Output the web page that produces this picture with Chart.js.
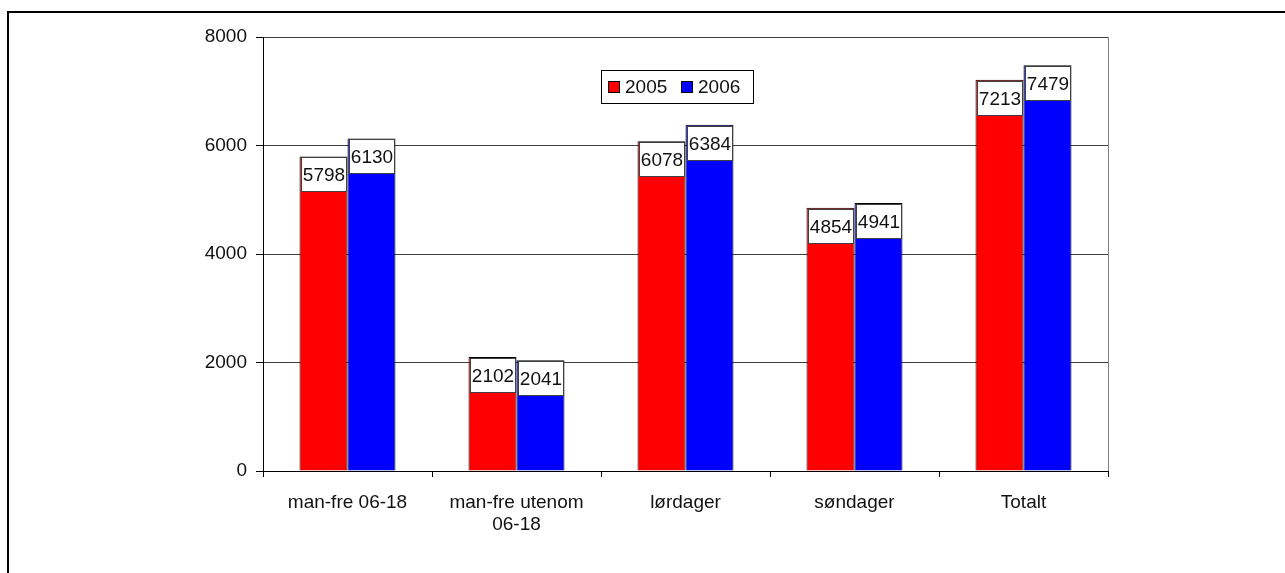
<!DOCTYPE html>
<html>
<head>
<meta charset="utf-8">
<script src="https://cdn.jsdelivr.net/npm/chart.js@4/dist/chart.umd.min.js"></script>
<style>
    html, body { margin: 0; padding: 0; background: #fff; overflow: hidden; }
    #frame {
        position: absolute;
        left: 7px;
        top: 11px;
        width: 2000px;
        height: 2000px;
        border: 2px solid #000;
    }
    #trafficChart { position: absolute; left: 0; top: 0; }
</style>
</head>
<body>
<div id="frame"></div>
<canvas id="trafficChart" width="1285" height="573"></canvas>
<script>
// Categories and yearly values
const categories = [
    'man-fre 06-18',
    ['man-fre utenom', '06-18'],
    'lørdager',
    'søndager',
    'Totalt'
];
const years = ['2005', '2006'];
const values2005 = [5798, 2102, 6078, 4854, 7213];
const values2006 = [6130, 2041, 6384, 4941, 7479];
const yTicks = [0, 2000, 4000, 6000, 8000];

const FONT = { family: '"Liberation Sans", Arial, sans-serif', size: 19 };
const TEXT = '#111';

// White boxed value labels at the top inside each bar
const valueLabels = {
    id: 'valueLabels',
    afterDatasetsDraw(chart) {
        const ctx = chart.ctx;
        ctx.save();
        ctx.font = `${FONT.size}px ${FONT.family}`;
        ctx.textAlign = 'center';
        ctx.textBaseline = 'middle';
        chart.data.datasets.forEach((ds, di) => {
            const meta = chart.getDatasetMeta(di);
            meta.data.forEach((bar, i) => {
                const left = Math.round(bar.x - bar.width / 2) + 1.5;
                const w = Math.round(bar.width) - 3;
                const top = Math.round(bar.y) + 1.5;
                const h = 34;
                ctx.fillStyle = '#fff';
                ctx.fillRect(left, top, w, h);
                ctx.strokeStyle = '#404040';
                ctx.lineWidth = 1;
                ctx.strokeRect(left, top, w, h);
                ctx.fillStyle = TEXT;
                ctx.fillText(String(ds.data[i]), left + w / 2, top + h / 2 + 1);
            });
        });
        ctx.restore();
    }
};

// Plot area right edge and the boxed legend inside the plot
const plotExtras = {
    id: 'plotExtras',
    afterDraw(chart) {
        const ctx = chart.ctx;
        const area = chart.chartArea;
        ctx.save();
        ctx.strokeStyle = '#808080';
        ctx.lineWidth = 1;
        ctx.beginPath();
        ctx.moveTo(Math.round(area.right) + 0.5, area.top);
        ctx.lineTo(Math.round(area.right) + 0.5, area.bottom);
        ctx.stroke();

        // legend box
        const lx = 601.5, ly = 70.5, lw = 152, lh = 33;
        ctx.fillStyle = '#fff';
        ctx.fillRect(lx, ly, lw, lh);
        ctx.strokeStyle = '#000';
        ctx.strokeRect(lx, ly, lw, lh);
        ctx.font = `${FONT.size}px ${FONT.family}`;
        ctx.textBaseline = 'middle';
        ctx.textAlign = 'left';
        const itemX = [608, 681];
        chart.data.datasets.forEach((ds, i) => {
            const sx = itemX[i] + 0.5, sy = 81.5;
            ctx.fillStyle = ds.backgroundColor;
            ctx.fillRect(sx, sy, 11, 11);
            ctx.strokeStyle = '#000';
            ctx.strokeRect(sx, sy, 11, 11);
            ctx.fillStyle = TEXT;
            ctx.fillText(ds.label, itemX[i] + 17, 88);
        });
        ctx.restore();
    }
};

new Chart(document.getElementById('trafficChart'), {
    type: 'bar',
    data: {
        labels: categories,
        datasets: [
            {
                label: years[0],
                data: values2005,
                backgroundColor: '#ff0000',
                borderColor: '#000',
                borderWidth: 1
            },
            {
                label: years[1],
                data: values2006,
                backgroundColor: '#0000ff',
                borderColor: '#000',
                borderWidth: 1
            }
        ]
    },
    options: {
        responsive: false,
        animation: false,
        events: [],
        categoryPercentage: 0.568,
        barPercentage: 1,
        layout: {
            padding: { left: 0, top: 37, right: 177, bottom: 0 }
        },
        scales: {
            x: {
                grid: {
                    display: true,
                    offset: true,
                    drawOnChartArea: false,
                    drawTicks: true,
                    tickLength: 6,
                    color: '#000'
                },
                border: { color: '#000', width: 1 },
                ticks: {
                    font: { ...FONT, lineHeight: 1.2 },
                    color: TEXT,
                    padding: 14,
                    maxRotation: 0,
                    autoSkip: false
                },
                afterFit(scale) { scale.height = 102; }
            },
            y: {
                min: yTicks[0],
                max: yTicks[yTicks.length - 1],
                afterBuildTicks(scale) {
                    scale.ticks = yTicks.map(v => ({ value: v }));
                },
                grid: {
                    color: '#404040',
                    tickColor: '#000',
                    tickLength: 7,
                    drawTicks: true
                },
                border: { color: '#000', width: 1 },
                ticks: {
                    font: FONT,
                    color: TEXT,
                    padding: 9,
                    callback: v => String(v)
                },
                afterFit(scale) { scale.width = 263; }
            }
        },
        plugins: {
            legend: { display: false },
            tooltip: { enabled: false }
        }
    },
    plugins: [valueLabels, plotExtras]
});
</script>
</body>
</html>
